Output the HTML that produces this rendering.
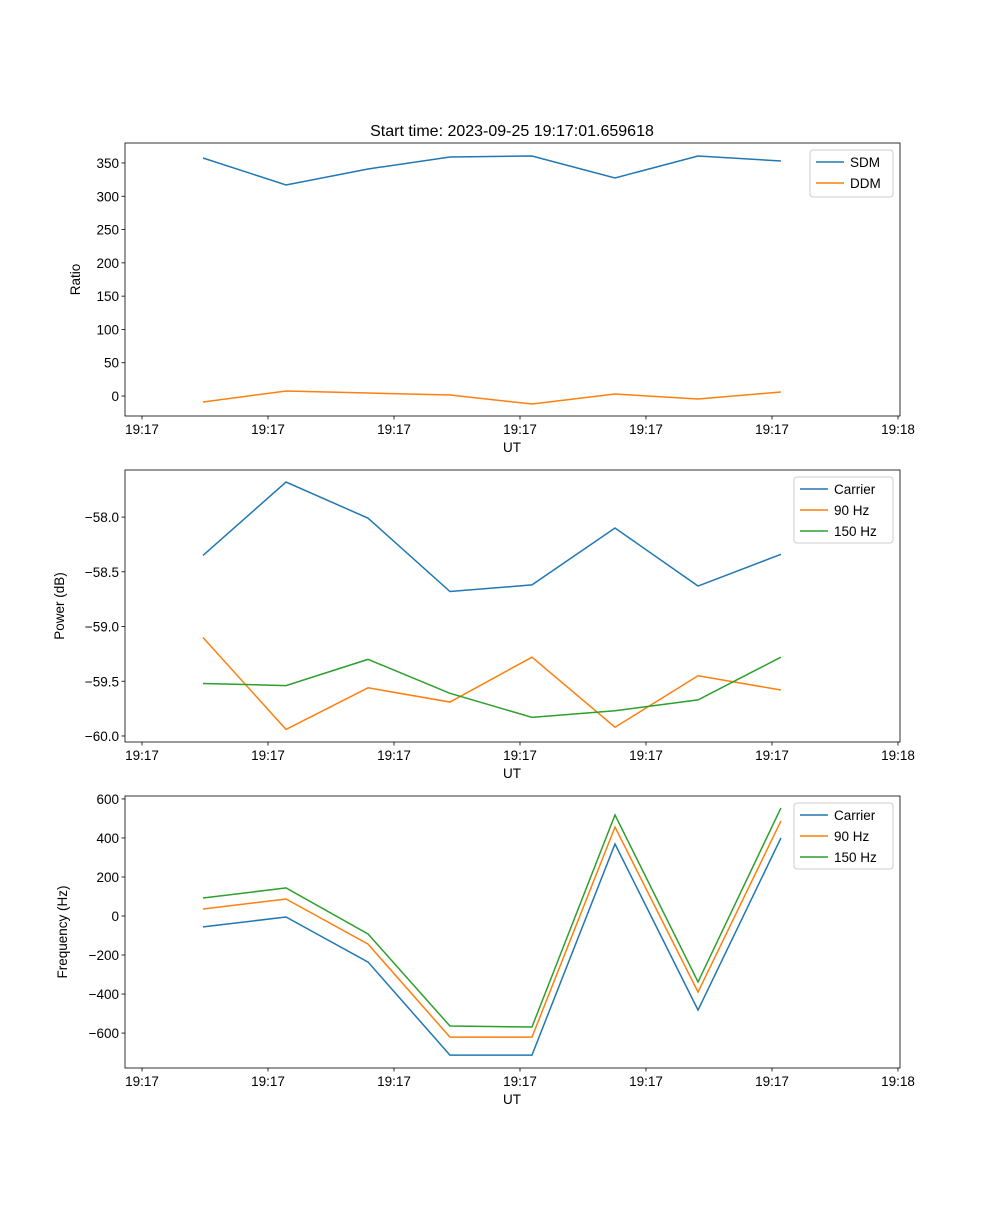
<!DOCTYPE html>
<html><head><meta charset="utf-8"><style>
body{margin:0;background:#fff}
svg text{font-family:"Liberation Sans","DejaVu Sans",sans-serif;font-size:13.5px;fill:#000}
</style></head><body>
<svg id="fig" width="1000" height="1200" xmlns="http://www.w3.org/2000/svg">
<rect width="1000" height="1200" fill="#fff"/>
<text x="512" y="136" text-anchor="middle" style="font-size:16px">Start time: 2023-09-25 19:17:01.659618</text>
</svg>
<script>
// x positions in seconds since tick 0
const times=[4.84,11.43,17.94,24.44,30.95,37.54,44.13,50.71];
const xTickVals=[0,10,20,30,40,50,60];
const xTickLabels=["19:17","19:17","19:17","19:17","19:17","19:17","19:18"];
const sdm=[357.5,317,341,359,360.5,327.5,360.5,353];
const ddm=[-9,7.5,4.5,1.5,-12,3,-4.5,6];
const ratioTicks=[0,50,100,150,200,250,300,350];
const powCarrier=[-58.35,-57.68,-58.01,-58.68,-58.62,-58.10,-58.63,-58.34];
const pow90=[-59.10,-59.94,-59.56,-59.69,-59.28,-59.92,-59.45,-59.58];
const pow150=[-59.52,-59.54,-59.30,-59.61,-59.83,-59.77,-59.67,-59.28];
const powTicks=[-58.0,-58.5,-59.0,-59.5,-60.0];
const frqCarrier=[-56,-5,-236,-713,-713,369,-482,400];
const frq90=[36,87,-144,-621,-621,456,-390,487];
const frq150=[92,144,-92,-564,-569,518,-338,554];
const frqTicks=[-600,-400,-200,0,200,400,600];

const NS="http://www.w3.org/2000/svg",svg=document.getElementById('fig');
const C=['#1f77b4','#ff7f0e','#2ca02c'];
function el(t,a,p){const e=document.createElementNS(NS,t);for(const k in a)e.setAttribute(k,a[k]);(p||svg).appendChild(e);return e;}
const L=125,R=900,xmin=-1.35,xmax=60.16;
const xs=v=>L+(v-xmin)/(xmax-xmin)*(R-L);
function panel(name,top,bot,ymin,ymax,ticks,fmt,ylabel,series,names,legW,legH){
  const g=el('g',{});
  
  
  const ys=v=>bot-(v-ymin)/(ymax-ymin)*(bot-top);
  series.forEach((s,i)=>{
    const p=el('polyline',{points:s.map((v,j)=>xs(times[j])+','+ys(v)).join(' '),fill:'none',stroke:C[i],'stroke-width':1.5},g);
    
    
  });
  el('rect',{x:L,y:top,width:R-L,height:bot-top,fill:'none',stroke:'#000','stroke-width':0.8},g);
  xTickVals.forEach((v,i)=>{const x=xs(v);el('line',{x1:x,x2:x,y1:bot,y2:bot+3.5,stroke:'#000','stroke-width':0.8},g);
    const t=el('text',{x:x,y:bot+18,'text-anchor':'middle'},g);t.textContent=xTickLabels[i];
    
    });
  ticks.forEach(v=>{const y=ys(v);el('line',{x1:L-3.5,x2:L,y1:y,y2:y,stroke:'#000','stroke-width':0.8},g);
    const t=el('text',{x:L-6,y:y+5,'text-anchor':'end'},g);t.textContent=fmt(v);
    
    });
  const xl=el('text',{x:512,y:bot+36,'text-anchor':'middle'},g);xl.textContent='UT';
  
  
  const yl=el('text',{transform:`translate(${ylabel[1]},${(top+bot)/2}) rotate(-90)`,'text-anchor':'middle'},g);yl.textContent=ylabel[0];
  
  
  const lg=el('g',{},g);
  
  
  const lx=R-7-legW,ly=top+7;
  el('rect',{x:lx,y:ly,width:legW,height:legH,rx:3,fill:'#fff','fill-opacity':0.8,stroke:'#ccc'},lg);
  names.forEach((n,i)=>{const y=ly+12+i*21;
    el('line',{x1:lx+6,x2:lx+34,y1:y,y2:y,stroke:C[i],'stroke-width':1.5},lg);
    const t=el('text',{x:lx+40,y:y+5},lg);t.textContent=n;
    
    });
}
panel('ratio-panel',143,416,-30,380,ratioTicks,v=>v,['Ratio',80],[sdm,ddm],['SDM','DDM'],83,47);
panel('power-panel',470,742,-60.055,-57.57,powTicks,v=>'\u2212'+Math.abs(v).toFixed(1),['Power (dB)',64],[powCarrier,pow90,pow150],['Carrier','90 Hz','150 Hz'],99,66);
panel('frequency-panel',796,1068,-779,615,frqTicks,v=>v<0?'\u2212'+(-v):''+v,['Frequency (Hz)',67],[frqCarrier,frq90,frq150],['Carrier','90 Hz','150 Hz'],99,66);
</script>
</body></html>
